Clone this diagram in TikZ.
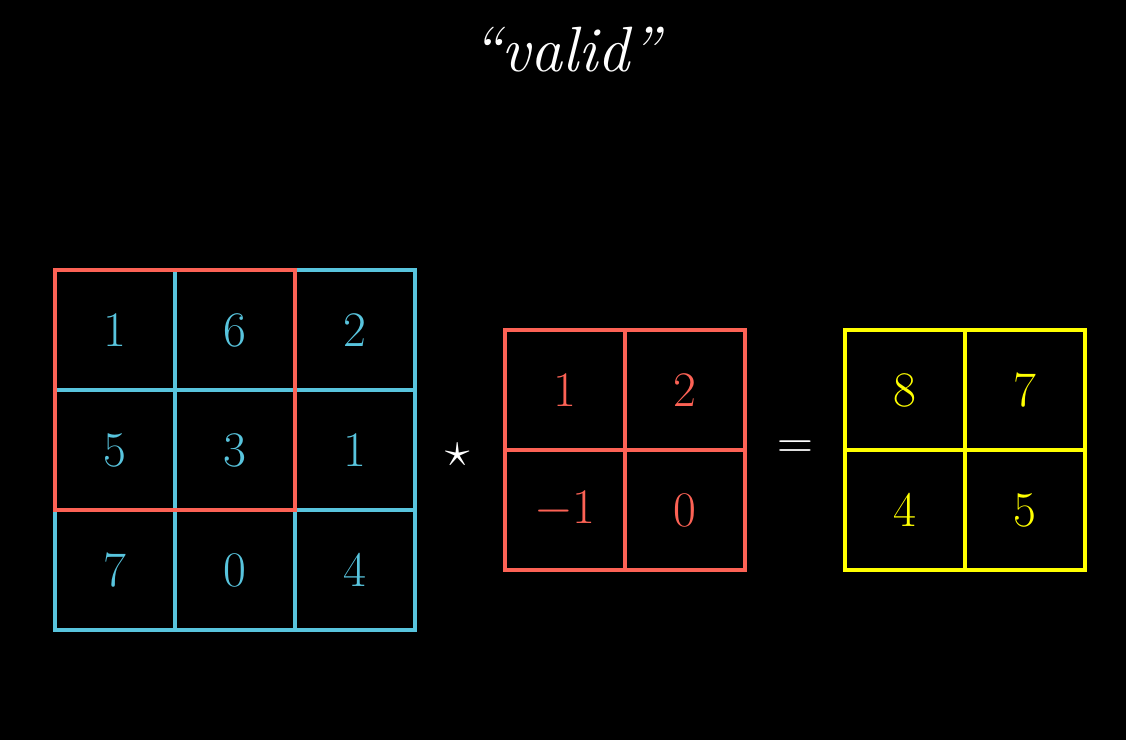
\documentclass[tikz,border=0pt]{standalone}
\usepackage{tikz}
\usetikzlibrary{positioning}
\definecolor{gridblue}{HTML}{58C4DD}
\definecolor{gridred}{HTML}{FC6255}
\definecolor{gridyellow}{HTML}{FFFF00}

\begin{document}
\begin{tikzpicture}[
  x=0.5pt, y=-0.5pt,
  font=\fontsize{32}{38}\selectfont,
  cell/.style={draw, line width=2.2pt, minimum size=60pt, inner sep=0pt, outer sep=0pt},
  incell/.style={cell, draw=gridblue, text=gridblue},
  kercell/.style={cell, draw=gridred, text=gridred},
  outcell/.style={cell, draw=gridyellow, text=gridyellow},
  sym/.style={text=white, font=\fontsize{36}{40}\selectfont}
]
  % Background
  \fill[black] (0,0) rectangle (1126,740);

  % Title
  \node[text=white, font=\fontsize{32}{38}\selectfont] (title) at (568,50) {\textit{``valid''}};

  % Input 3x3
  \foreach \v [count=\k from 0] in {1,6,2,5,3,1,7,0,4} {
    \pgfmathtruncatemacro{\r}{\k/3}
    \pgfmathtruncatemacro{\c}{mod(\k,3)}
    \node[incell] (in-\r\c) at (115+120*\c, 330+120*\r) {$\v$};
  }
  % Window
  \draw[gridred, line width=2.2pt] (in-00.north west) rectangle (in-11.south east);

  % Star
  \node[sym] (conv) at (458,455) {$\star$};

  % Kernel 2x2
  \foreach \v [count=\k from 0] in {1,2,-1,0} {
    \pgfmathtruncatemacro{\r}{\k/2}
    \pgfmathtruncatemacro{\c}{mod(\k,2)}
    \node[kercell] (ker-\r\c) at (565+120*\c, 390+120*\r) {$\v$};
  }

  % Equals
  \node[sym] (eq) at (795,450) {$=$};

  % Output 2x2
  \foreach \v [count=\k from 0] in {8,7,4,5} {
    \pgfmathtruncatemacro{\r}{\k/2}
    \pgfmathtruncatemacro{\c}{mod(\k,2)}
    \node[outcell] (out-\r\c) at (905+120*\c, 390+120*\r) {$\v$};
  }
\end{tikzpicture}
\end{document}
